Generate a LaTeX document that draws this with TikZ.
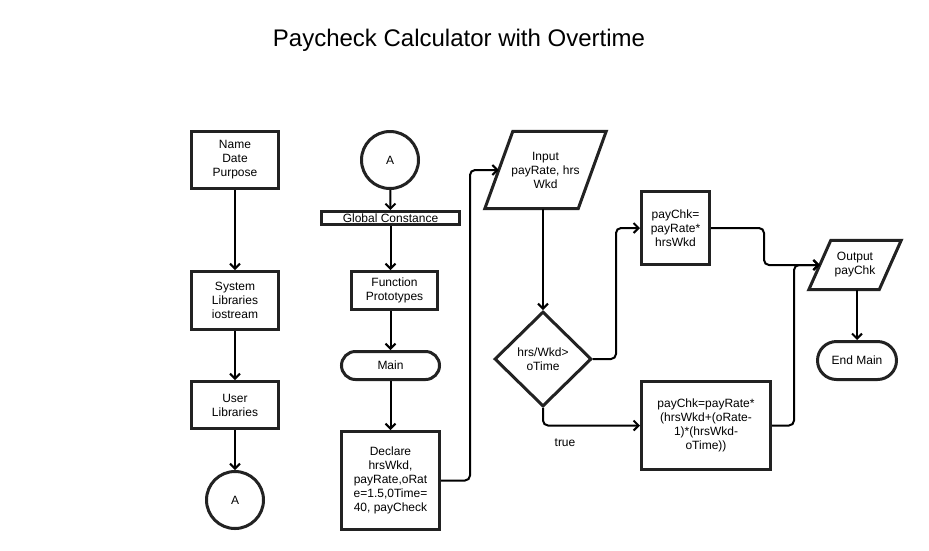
\documentclass[tikz,border=0pt]{standalone}
\usepackage{fontspec}
\setmainfont{Liberation Sans}
\usetikzlibrary{arrows.meta,shapes.geometric}
\definecolor{bord}{HTML}{222222}
\tikzset{
  base/.style={draw=bord, line width=3pt, align=center, inner sep=0pt, text=black, font=\fontsize{12}{14}\selectfont},
  box/.style={base, rectangle},
  term/.style={base, rectangle, rounded corners=#1},
  circ/.style={base, circle, minimum size=57pt},
  iobox/.style={align=center, inner sep=0pt, font=\fontsize{12}{14}\selectfont},
  ioline/.style={draw=bord, line width=3pt, line join=miter},
  dec/.style={base, diamond, minimum width=97pt, minimum height=95pt},
  conn/.style={draw=black, line width=2pt, rounded corners=5pt, -{Straight Barb[length=5pt,width=10pt]}},
  plain/.style={draw=black, line width=2pt, rounded corners=5pt},
  lbl/.style={inner sep=0pt, font=\fontsize{12}{14}\selectfont}
}
\begin{document}
\begin{tikzpicture}[x=1pt,y=-1pt]
\useasboundingbox[fill=white] (0,0) rectangle (929,550);
\node[inner sep=0pt, font=\fontsize{24}{28}\selectfont] (title) at (459,40) {Paycheck Calculator with Overtime};
% left column
\node[box, minimum width=87pt, minimum height=57pt] (name) at (235,160) {Name\\Date\\Purpose};
\node[box, minimum width=87pt, minimum height=58pt] (sys) at (235,300.5) {System\\Libraries\\iostream};
\node[box, minimum width=87pt, minimum height=47pt] (user) at (235,405) {User\\Libraries};
\node[circ] (abot) at (235,500) {A};
% middle column
\node[circ] (atop) at (390,160) {A};
\node[box, minimum width=138pt, minimum height=13pt] (glob) at (390.5,218) {Global Constance};
\node[box, minimum width=86pt, minimum height=38pt] (func) at (394.5,290.5) {Function\\Prototypes};
\node[term=14pt, minimum width=98pt, minimum height=28pt] (main) at (390.5,365.5) {Main};
\node[box, minimum width=98pt, minimum height=98pt] (decl) at (390.5,480.5) {Declare\\hrsWkd,\\payRate,oRat\\e=1.5,0Time=\\40, payCheck};
% input
\node[iobox, minimum width=93pt, minimum height=77pt] (in) at (545.5,170) {Input\\payRate, hrs\\Wkd};
\draw[ioline] ([xshift=14pt]in.north west) -- ([xshift=14pt]in.north east) -- ([xshift=-14pt]in.south east) -- ([xshift=-14pt]in.south west) -- cycle;
% decision
\node[dec] (dia) at (543,359) {hrs/Wkd>\\oTime};
% calc boxes
\node[box, minimum width=68pt, minimum height=73pt] (pay1) at (675.5,228) {payChk=\\payRate*\\hrsWkd};
\node[box, minimum width=129pt, minimum height=88pt] (pay2) at (706,425.5) {payChk=payRate*\\(hrsWkd+(oRate-\\1)*(hrsWkd-\\oTime))};
% output
\node[iobox, minimum width=70pt, minimum height=49pt] (out) at (855,265) {Output\\payChk};
\draw[ioline] ([xshift=11pt]out.north west) -- ([xshift=11pt]out.north east) -- ([xshift=-11pt]out.south east) -- ([xshift=-11pt]out.south west) -- cycle;
\node[term=19pt, minimum width=79pt, minimum height=38pt] (endm) at (857,360.5) {End Main};
% label
\node[lbl] (true) at (565,443) {true};
% connectors
\draw[conn] (name) -- (sys);
\draw[conn] (sys) -- (user);
\draw[conn] (user) -- (abot);
\draw[conn] (atop) -- (glob);
\draw[conn] (glob.south) -- (glob.south |- func.north);
\draw[conn] (main.north |- func.south) -- (main.north);
\draw[conn] (main) -- (decl);
\draw[conn] (decl.east) -- ++(29,0) |- (in.west);
\draw[conn] (in.south -| dia.north) -- (dia.north);
\draw[conn] (dia.east) -- ++(23,0) |- (pay1.west);
\draw[conn] (dia.south) |- (pay2.west);
\draw[conn] (pay1.east) -- ++(53,0) |- (out.west);
\draw[conn] (pay2.east) -- ++(22,0) |- (out.west);
\draw[conn] (out.south -| endm.north) -- (endm.north);
\end{tikzpicture}
\end{document}
